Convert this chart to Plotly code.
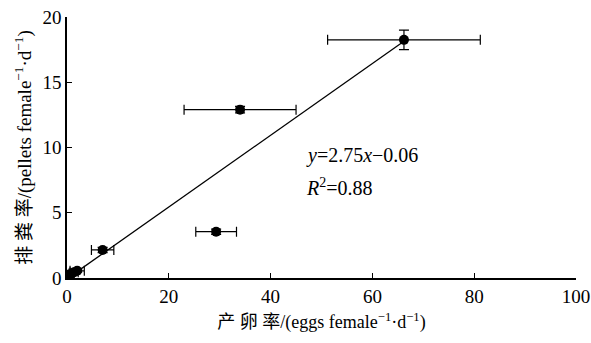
import plotly.graph_objects as go

# Data
egg_rate = [0.4, 0.9, 1.4, 2.0, 7.0, 29.3, 34.0, 66.2]
egg_err = [0.3, 0.5, 0.8, 1.4, 2.2, 4.0, 11.0, 15.0]
pellet_rate = [0.25, 0.35, 0.45, 0.55, 2.15, 3.55, 12.9, 18.25]
pellet_err = [0.1, 0.1, 0.1, 0.1, 0.2, 0.2, 0.25, 0.75]

fit_slope = 0.275
fit_intercept = -0.06
fit_x = [0.6, 66.2]
fit_y = [fit_slope * v + fit_intercept for v in fit_x]

x_ticks = [0, 20, 40, 60, 80, 100]
y_ticks = [0, 5, 10, 15, 20]

font_serif = "Times New Roman, Liberation Serif, DejaVu Serif, serif"
cjk = "Times New Roman, Liberation Serif, Noto Sans CJK SC, serif"

fig = go.Figure()

fig.add_trace(go.Scatter(
    x=fit_x, y=fit_y, mode="lines",
    line=dict(color="black", width=1.3),
    showlegend=False, hoverinfo="skip",
))

fig.add_trace(go.Scatter(
    x=egg_rate, y=pellet_rate, mode="markers",
    marker=dict(color="black", size=10),
    error_x=dict(type="data", array=egg_err, color="black", thickness=1.2, width=5),
    error_y=dict(type="data", array=pellet_err, color="black", thickness=1.2, width=5),
    showlegend=False,
))

fig.add_annotation(
    x=46.5, y=9.4, xref="x", yref="y", xanchor="left", yanchor="middle",
    text="<i>y</i>=2.75<i>x</i>−0.06", showarrow=False,
    font=dict(family=font_serif, size=20, color="black"),
)
fig.add_annotation(
    x=46.5, y=7.0, xref="x", yref="y", xanchor="left", yanchor="middle",
    text="<i>R</i><sup>2</sup>=0.88", showarrow=False,
    font=dict(family=font_serif, size=20, color="black"),
)

fig.update_layout(
    width=591, height=343,
    margin=dict(l=67, r=15, t=17, b=65, autoexpand=False),
    paper_bgcolor="white", plot_bgcolor="white",
    font=dict(family=font_serif, size=16, color="black"),
    xaxis=dict(
        range=[0, 100], tickvals=x_ticks, ticks="inside", ticklen=5,
        tickcolor="black", showline=True, linecolor="black", linewidth=1.5,
        showgrid=False, zeroline=False, mirror=False, automargin=False,
        tickfont=dict(family=font_serif, size=19),
        title=dict(text="产 卵 率/(eggs female<sup>−1</sup>·d<sup>−1</sup>)",
                   font=dict(family=cjk, size=18), standoff=10),
    ),
    yaxis=dict(
        range=[0, 20], tickvals=y_ticks, ticks="inside", ticklen=5,
        tickcolor="black", showline=True, linecolor="black", linewidth=1.5,
        showgrid=False, zeroline=False, mirror=False, automargin=False,
        tickfont=dict(family=font_serif, size=19),
        title=dict(text="排 粪 率/(pellets female<sup>−1</sup>·d<sup>−1</sup>)",
                   font=dict(family=cjk, size=19), standoff=6),
    ),
)

fig.write_html("out.html")
